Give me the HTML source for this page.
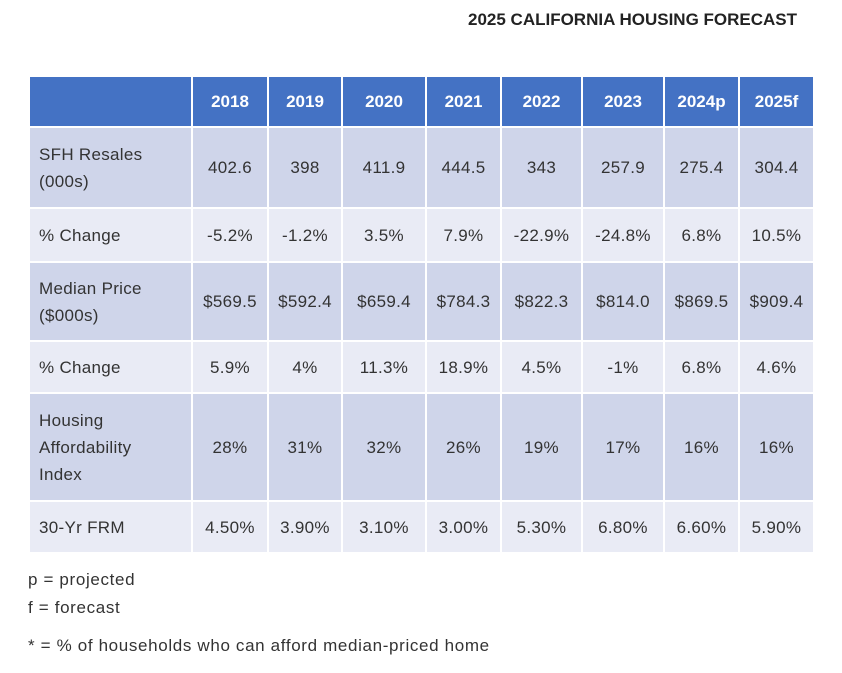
<!DOCTYPE html>
<html><head><meta charset="utf-8"><style>
body{margin:0;width:842px;height:673px;background:#fff;font-family:"Liberation Sans",sans-serif;color:#333;position:relative;overflow:hidden}
.title{position:absolute;top:10px;left:468px;font-weight:bold;font-size:17px;color:#222;white-space:nowrap}
table{position:absolute;left:28px;top:75px;border-collapse:collapse;table-layout:fixed;width:785px;font-size:17px;letter-spacing:0.3px}
td,th{border:2px solid #fff;padding:0;text-align:center;line-height:27px}
th{background:#4472C4;color:#fff;font-weight:bold;letter-spacing:0}
td:first-child{text-align:left;padding-left:9px}
tr.a td{background:#CFD5EA}
tr.b td{background:#E9EBF5}
.notes{position:absolute;left:28px;font-size:17px;letter-spacing:0.65px;white-space:nowrap}
</style></head><body>
<div class="title">2025 CALIFORNIA HOUSING FORECAST</div>
<table>
<colgroup><col style="width:163px"><col style="width:76px"><col style="width:74px"><col style="width:84px"><col style="width:75px"><col style="width:81px"><col style="width:82px"><col style="width:75px"><col style="width:75px"></colgroup>
<tr style="height:51px"><th></th><th>2018</th><th>2019</th><th>2020</th><th>2021</th><th>2022</th><th>2023</th><th>2024p</th><th>2025f</th></tr>
<tr class="a" style="height:81px"><td>SFH Resales<br>(000s)</td><td>402.6</td><td>398</td><td>411.9</td><td>444.5</td><td>343</td><td>257.9</td><td>275.4</td><td>304.4</td></tr>
<tr class="b" style="height:54px"><td>% Change</td><td>-5.2%</td><td>-1.2%</td><td>3.5%</td><td>7.9%</td><td>-22.9%</td><td>-24.8%</td><td>6.8%</td><td>10.5%</td></tr>
<tr class="a" style="height:79px"><td>Median Price<br>($000s)</td><td>$569.5</td><td>$592.4</td><td>$659.4</td><td>$784.3</td><td>$822.3</td><td>$814.0</td><td>$869.5</td><td>$909.4</td></tr>
<tr class="b" style="height:52px"><td>% Change</td><td>5.9%</td><td>4%</td><td>11.3%</td><td>18.9%</td><td>4.5%</td><td>-1%</td><td>6.8%</td><td>4.6%</td></tr>
<tr class="a" style="height:108px"><td>Housing<br>Affordability<br>Index</td><td>28%</td><td>31%</td><td>32%</td><td>26%</td><td>19%</td><td>17%</td><td>16%</td><td>16%</td></tr>
<tr class="b" style="height:52px"><td>30-Yr FRM</td><td>4.50%</td><td>3.90%</td><td>3.10%</td><td>3.00%</td><td>5.30%</td><td>6.80%</td><td>6.60%</td><td>5.90%</td></tr>
</table>
<div class="notes" style="top:566px;line-height:28px">p = projected<br>f = forecast</div>
<div class="notes" style="top:636px">* = % of households who can afford median-priced home</div>
</body></html>
